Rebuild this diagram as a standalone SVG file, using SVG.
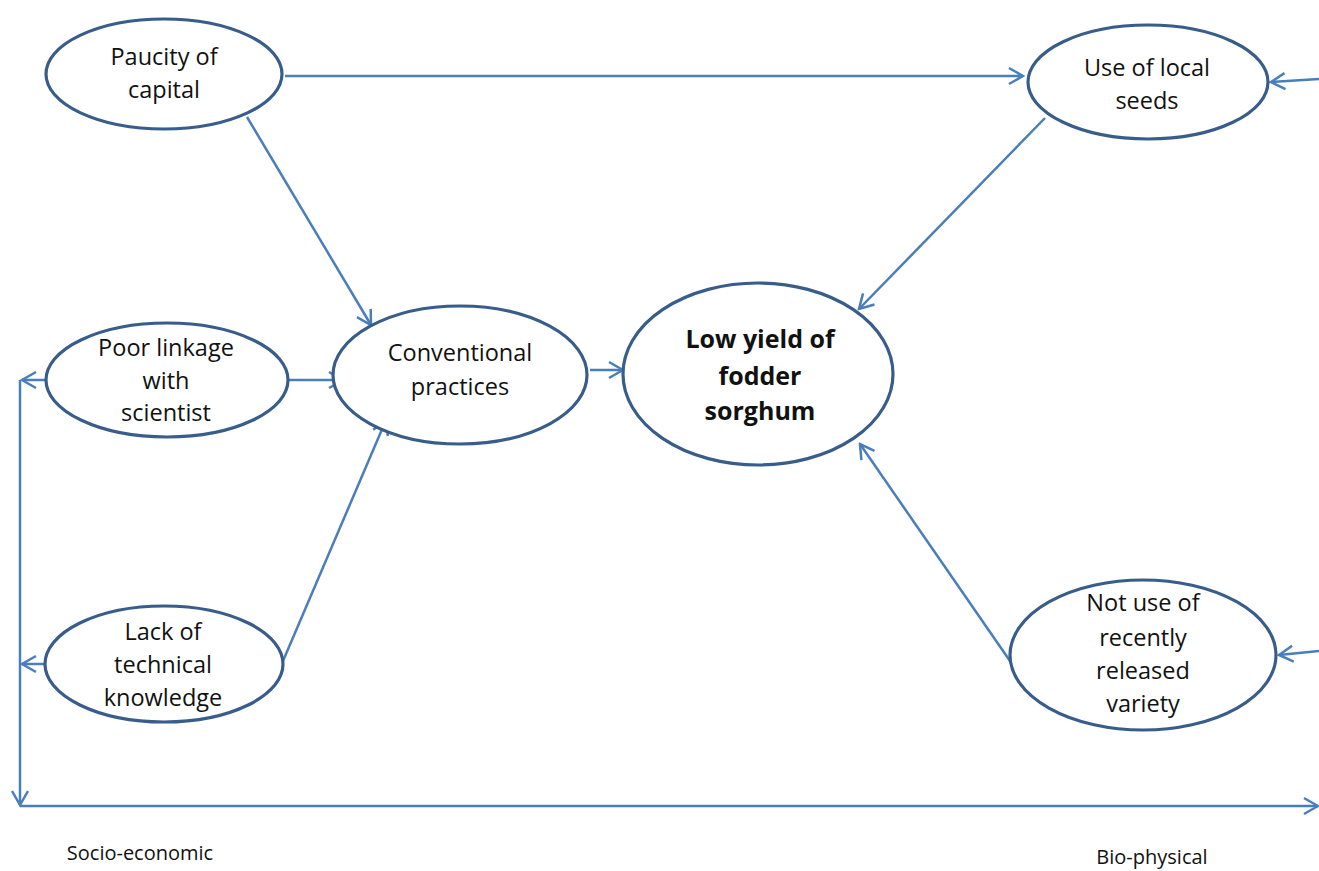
<svg xmlns="http://www.w3.org/2000/svg" width="1319" height="871" viewBox="0 0 1319 871">
  <style>
    .node ellipse { fill: #ffffff; stroke: #385d8a; stroke-width: 3.2; }
    .node text { font-family: "Open Sans", "Liberation Sans", sans-serif; font-size: 23.5px; fill: #111111; text-anchor: middle; }
    .node text.bold { font-weight: bold; font-size: 25px; }
    .edge { fill: none; stroke: #4a7ebb; stroke-width: 2.5; marker-end: url(#arrow); }
    .axis-label { font-family: "Open Sans", "Liberation Sans", sans-serif; font-size: 20px; fill: #111111; text-anchor: middle; }
  </style>
  <defs>
    <marker id="arrow" viewBox="0 0 20 20" refX="18" refY="10" markerWidth="20" markerHeight="20" markerUnits="userSpaceOnUse" orient="auto">
      <path d="M4,2 L18,10 L4,18" fill="none" stroke="#4a7ebb" stroke-width="2.5"/>
    </marker>
  </defs>
  <rect width="1319" height="871" fill="#ffffff"/>

  <g id="connectors">
    <line class="edge" x1="285" y1="76" x2="1023" y2="76"/>
    <line class="edge" x1="247" y1="117" x2="371" y2="325"/>
    <line class="edge" x1="1045" y1="118" x2="859" y2="309"/>
    <line class="edge" x1="288" y1="380" x2="343" y2="380"/>
    <line class="edge" x1="283" y1="661" x2="386" y2="420"/>
    <line class="edge" x1="590" y1="370" x2="623" y2="370"/>
    <line class="edge" x1="1010" y1="661" x2="860" y2="444"/>
    <line class="edge" x1="1319" y1="79" x2="1271" y2="82"/>
    <line class="edge" x1="1319" y1="651" x2="1279" y2="655"/>
    <line class="edge" x1="46" y1="380" x2="22" y2="380"/>
    <line class="edge" x1="46" y1="664" x2="22" y2="664"/>
    <line class="edge" x1="20" y1="380" x2="20" y2="805"/>
    <line class="edge" x1="20" y1="806" x2="1318" y2="806"/>
  </g>

  <g id="paucity-of-capital" class="node">
    <ellipse cx="164" cy="74" rx="118" ry="55"/>
    <text x="164" y="65">Paucity of</text>
    <text x="164" y="98">capital</text>
  </g>

  <g id="poor-linkage" class="node">
    <ellipse cx="167" cy="380" rx="121" ry="57"/>
    <text x="166" y="356">Poor linkage</text>
    <text x="166" y="389">with</text>
    <text x="166" y="421">scientist</text>
  </g>

  <g id="lack-of-knowledge" class="node">
    <ellipse cx="164" cy="664" rx="119" ry="58"/>
    <text x="163" y="640">Lack of</text>
    <text x="163" y="673">technical</text>
    <text x="163" y="706">knowledge</text>
  </g>

  <g id="conventional-practices" class="node">
    <ellipse cx="460" cy="375" rx="127" ry="69"/>
    <text x="460" y="361">Conventional</text>
    <text x="460" y="395">practices</text>
  </g>

  <g id="low-yield" class="node">
    <ellipse cx="758" cy="374" rx="135" ry="91"/>
    <text class="bold" x="760" y="348">Low yield of</text>
    <text class="bold" x="760" y="385">fodder</text>
    <text class="bold" x="760" y="420">sorghum</text>
  </g>

  <g id="use-of-local-seeds" class="node">
    <ellipse cx="1148" cy="82" rx="120" ry="57"/>
    <text x="1147" y="76">Use of local</text>
    <text x="1147" y="109">seeds</text>
  </g>

  <g id="not-use-released-variety" class="node">
    <ellipse cx="1143" cy="655" rx="133" ry="75"/>
    <text x="1143" y="611">Not use of</text>
    <text x="1143" y="646">recently</text>
    <text x="1143" y="679">released</text>
    <text x="1143" y="712">variety</text>
  </g>

  <text class="axis-label" x="140" y="860">Socio-economic</text>
  <text class="axis-label" x="1152" y="864">Bio-physical</text>
</svg>
